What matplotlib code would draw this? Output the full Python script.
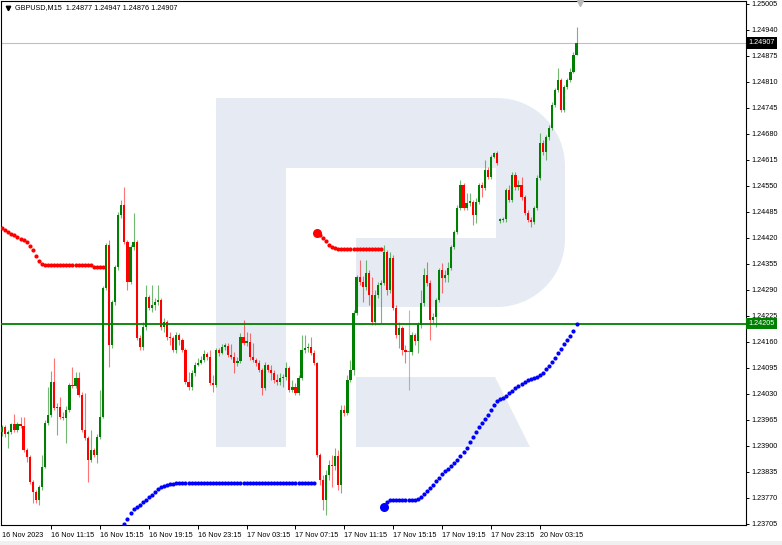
import numpy as np
import matplotlib.pyplot as plt
import matplotlib.transforms as mtransforms
from matplotlib.patches import Polygon, Rectangle

plt.rcParams['font.family'] = ['Liberation Sans', 'DejaVu Sans']

SYMBOL = "GBPUSD,M15"

# M15 bars, 16 Nov 2023 07:15 .. 20 Nov 2023 06:15 (open = previous close)
FIRST_OPEN = 1.23935
WEEKEND_BAR = 163
WEEKEND_OPEN = 1.24463

CLOSE = [
    1.23948, 1.23930, 1.23935, 1.23955, 1.23940, 1.23955, 1.23950, 1.23890, 1.23873, 1.23810,
    1.23785, 1.23765, 1.23798, 1.23848, 1.23958, 1.23978, 1.24060, 1.23995, 1.23998, 1.23973,
    1.23970, 1.23990, 1.24053, 1.24050, 1.24070, 1.24028, 1.23940, 1.23920, 1.23865, 1.23890,
    1.23878, 1.23923, 1.23973, 1.24295, 1.24403, 1.24153, 1.24260, 1.24348, 1.24478, 1.24503,
    1.24410, 1.24310, 1.24398, 1.24410, 1.24170, 1.24148, 1.24198, 1.24273, 1.24245, 1.24253,
    1.24260, 1.24265, 1.24198, 1.24210, 1.24173, 1.24170, 1.24140, 1.24178, 1.24165, 1.24140,
    1.24060, 1.24048, 1.24083, 1.24103, 1.24108, 1.24115, 1.24130, 1.24123, 1.24058, 1.24053,
    1.24140, 1.24133, 1.24148, 1.24150, 1.24128, 1.24123, 1.24108, 1.24113, 1.24173, 1.24158,
    1.24160, 1.24123, 1.24115, 1.24108, 1.24090, 1.24045, 1.24103, 1.24090, 1.24083, 1.24065,
    1.24060, 1.24070, 1.24073, 1.24095, 1.24040, 1.24048, 1.24033, 1.24070, 1.24140, 1.24145,
    1.24148, 1.24133, 1.24108, 1.23878, 1.23815, 1.23765, 1.23828, 1.23853, 1.23850, 1.23875,
    1.23803, 1.23990, 1.23983, 1.24065, 1.24090, 1.24233, 1.24323, 1.24310, 1.24298, 1.24333,
    1.24278, 1.24210, 1.24278, 1.24303, 1.24308, 1.24385, 1.24290, 1.24370, 1.24245, 1.24178,
    1.24195, 1.24140, 1.24135, 1.24135, 1.24178, 1.24163, 1.24203, 1.24258, 1.24328, 1.24308,
    1.24215, 1.24223, 1.24265, 1.24340, 1.24320, 1.24328, 1.24345, 1.24398, 1.24435, 1.24495,
    1.24553, 1.24495, 1.24508, 1.24510, 1.24478, 1.24510, 1.24553, 1.24545, 1.24590, 1.24573,
    1.24623, 1.24633, 1.24608, 1.24465, 1.24468, 1.24540, 1.24515, 1.24578, 1.24548, 1.24553,
    1.24523, 1.24483, 1.24465, 1.24460, 1.24495, 1.24570, 1.24658, 1.24635, 1.24673, 1.24695,
    1.24753, 1.24790, 1.24815, 1.24740, 1.24798, 1.24815, 1.24835, 1.24877, 1.24907,
]

HIGH = [
    1.23953, 1.23953, 1.23940, 1.23958, 1.23980, 1.23960, 1.23973, 1.23973, 1.23895, 1.23878,
    1.23815, 1.23790, 1.23803, 1.23878, 1.23965, 1.24048, 1.24088, 1.24120, 1.24008, 1.24023,
    1.23985, 1.24000, 1.24058, 1.24098, 1.24085, 1.24085, 1.24035, 1.24033, 1.23925, 1.23940,
    1.23895, 1.23930, 1.24040, 1.24300, 1.24408, 1.24415, 1.24265, 1.24353, 1.24485, 1.24515,
    1.24548, 1.24415, 1.24403, 1.24483, 1.24415, 1.24178, 1.24210, 1.24303, 1.24278, 1.24303,
    1.24270, 1.24303, 1.24270, 1.24220, 1.24215, 1.24185, 1.24175, 1.24185, 1.24183, 1.24170,
    1.24145, 1.24085, 1.24090, 1.24110, 1.24120, 1.24125, 1.24140, 1.24135, 1.24140, 1.24078,
    1.24145, 1.24145, 1.24155, 1.24158, 1.24158, 1.24155, 1.24135, 1.24123, 1.24183, 1.24215,
    1.24185, 1.24183, 1.24158, 1.24120, 1.24115, 1.24095, 1.24110, 1.24105, 1.24103, 1.24090,
    1.24080, 1.24083, 1.24080, 1.24110, 1.24100, 1.24065, 1.24058, 1.24078, 1.24178, 1.24178,
    1.24158, 1.24173, 1.24140, 1.24110, 1.23883, 1.23828, 1.23840, 1.23865, 1.23878, 1.23895,
    1.23890, 1.24003, 1.24003, 1.24078, 1.24115, 1.24240, 1.24328, 1.24365, 1.24325, 1.24365,
    1.24340, 1.24323, 1.24290, 1.24310, 1.24315, 1.24403, 1.24390, 1.24385, 1.24378, 1.24253,
    1.24210, 1.24200, 1.24153, 1.24240, 1.24185, 1.24183, 1.24210, 1.24290, 1.24345, 1.24360,
    1.24315, 1.24233, 1.24270, 1.24345, 1.24358, 1.24340, 1.24360, 1.24403, 1.24440, 1.24503,
    1.24565, 1.24558, 1.24533, 1.24533, 1.24515, 1.24520, 1.24558, 1.24560, 1.24615, 1.24598,
    1.24628, 1.24635, 1.24638, 1.24470, 1.24473, 1.24545, 1.24553, 1.24585, 1.24585, 1.24565,
    1.24573, 1.24528, 1.24490, 1.24473, 1.24500, 1.24578, 1.24683, 1.24665, 1.24678, 1.24703,
    1.24760, 1.24795, 1.24845, 1.24820, 1.24803, 1.24820, 1.24845, 1.24885, 1.24947,
]

LOW = [
    1.23925, 1.23923, 1.23895, 1.23930, 1.23935, 1.23935, 1.23945, 1.23885, 1.23860, 1.23805,
    1.23758, 1.23758, 1.23753, 1.23790, 1.23845, 1.23953, 1.23973, 1.23990, 1.23928, 1.23968,
    1.23965, 1.23908, 1.23985, 1.24045, 1.24045, 1.24023, 1.23935, 1.23915, 1.23810, 1.23860,
    1.23873, 1.23858, 1.23918, 1.23970, 1.24290, 1.24098, 1.24145, 1.24253, 1.24340, 1.24470,
    1.24405, 1.24290, 1.24305, 1.24390, 1.24165, 1.24140, 1.24140, 1.24190, 1.24240, 1.24235,
    1.24240, 1.24253, 1.24190, 1.24185, 1.24165, 1.24153, 1.24135, 1.24133, 1.24153, 1.24135,
    1.24055, 1.24040, 1.24040, 1.24075, 1.24100, 1.24105, 1.24110, 1.24115, 1.24053, 1.24035,
    1.24048, 1.24125, 1.24130, 1.24140, 1.24123, 1.24118, 1.24083, 1.24100, 1.24108, 1.24153,
    1.24150, 1.24115, 1.24110, 1.24100, 1.24085, 1.24028, 1.24040, 1.24085, 1.24065, 1.24058,
    1.24053, 1.24053, 1.24048, 1.24065, 1.24035, 1.24035, 1.24028, 1.24028, 1.24065, 1.24133,
    1.24135, 1.24128, 1.24103, 1.23873, 1.23803, 1.23740, 1.23728, 1.23815, 1.23798, 1.23840,
    1.23790, 1.23783, 1.23975, 1.23978, 1.24060, 1.24078, 1.24228, 1.24303, 1.24260, 1.24290,
    1.24253, 1.24203, 1.24203, 1.24270, 1.24208, 1.24303, 1.24278, 1.24283, 1.24240, 1.24170,
    1.24145, 1.24128, 1.24108, 1.24040, 1.24128, 1.24153, 1.24133, 1.24195, 1.24250, 1.24300,
    1.24165, 1.24208, 1.24198, 1.24260, 1.24283, 1.24310, 1.24310, 1.24340, 1.24393, 1.24430,
    1.24490, 1.24490, 1.24490, 1.24500, 1.24453, 1.24458, 1.24505, 1.24523, 1.24540, 1.24568,
    1.24568, 1.24620, 1.24603, 1.24458, 1.24460, 1.24460, 1.24510, 1.24510, 1.24540, 1.24540,
    1.24515, 1.24478, 1.24460, 1.24448, 1.24455, 1.24490, 1.24565, 1.24628, 1.24615, 1.24665,
    1.24690, 1.24748, 1.24785, 1.24735, 1.24735, 1.24793, 1.24810, 1.24833, 1.24876,
]

# trailing band dots: (first bar index, values)
UPPER_A_START = 0
UPPER_A = [
    1.24445, 1.24440, 1.24435, 1.24430, 1.24428, 1.24423, 1.24418, 1.24415, 1.24410, 1.24400,
    1.24390, 1.24375, 1.24363, 1.24355, 1.24353, 1.24353, 1.24353, 1.24353, 1.24353, 1.24353,
    1.24353, 1.24353, 1.24353, 1.24353, 1.24353, 1.24353, 1.24353, 1.24353, 1.24353, 1.24353,
    1.24348, 1.24348, 1.24348, 1.24348,
]
UPPER_B_START = 103
UPPER_B = [
    1.24433, 1.24428, 1.24420, 1.24413, 1.24403, 1.24398, 1.24395, 1.24393, 1.24393, 1.24393,
    1.24393, 1.24393, 1.24393, 1.24393, 1.24393, 1.24393, 1.24393, 1.24393, 1.24393, 1.24393,
    1.24393, 1.24393,
]
LOWER_A_START = 40
LOWER_A = [
    1.23705, 1.23718, 1.23733, 1.23743, 1.23748, 1.23753, 1.23760, 1.23765, 1.23773, 1.23778,
    1.23785, 1.23793, 1.23798, 1.23800, 1.23803, 1.23805, 1.23805, 1.23808, 1.23808, 1.23808,
    1.23808, 1.23808, 1.23808, 1.23808, 1.23808, 1.23808, 1.23808, 1.23808, 1.23808, 1.23808,
    1.23808, 1.23808, 1.23808, 1.23808, 1.23808, 1.23808, 1.23808, 1.23808, 1.23808, 1.23808,
    1.23808, 1.23808, 1.23808, 1.23808, 1.23808, 1.23808, 1.23808, 1.23808, 1.23808, 1.23808,
    1.23808, 1.23808, 1.23808, 1.23808, 1.23808, 1.23808, 1.23808, 1.23808, 1.23808, 1.23808,
    1.23808, 1.23808, 1.23808,
]
LOWER_B_START = 125
LOWER_B = [
    1.23748, 1.23760, 1.23765, 1.23765, 1.23765, 1.23765, 1.23765, 1.23765, 1.23765, 1.23765,
    1.23765, 1.23768, 1.23773, 1.23780, 1.23788, 1.23795, 1.23803, 1.23813, 1.23820, 1.23830,
    1.23838, 1.23843, 1.23850, 1.23858, 1.23865, 1.23875, 1.23885, 1.23895, 1.23910, 1.23923,
    1.23935, 1.23948, 1.23958, 1.23968, 1.23978, 1.23990, 1.24003, 1.24013, 1.24018, 1.24020,
    1.24025, 1.24033, 1.24038, 1.24045, 1.24050, 1.24055, 1.24060, 1.24065, 1.24068, 1.24070,
    1.24073, 1.24078, 1.24083, 1.24093, 1.24100, 1.24110, 1.24120, 1.24133, 1.24143, 1.24155,
    1.24165, 1.24175, 1.24188, 1.24205,
]

LEVEL_LINE = 1.24205
BID_LINE = 1.24907

Y_TICKS = [1.23705, 1.23770, 1.23835, 1.23900, 1.23965, 1.24030, 1.24095, 1.24160,
           1.24225, 1.24290, 1.24355, 1.24420, 1.24485, 1.24550, 1.24615, 1.24680,
           1.24745, 1.24810, 1.24875, 1.24940, 1.25005]
X_TICK_BARS = [0, 16, 32, 48, 64, 80, 96, 112, 128, 144, 160, 176]
X_TICK_LABELS = ["16 Nov 2023", "16 Nov 11:15", "16 Nov 15:15", "16 Nov 19:15",
                 "16 Nov 23:15", "17 Nov 03:15", "17 Nov 07:15", "17 Nov 11:15",
                 "17 Nov 15:15", "17 Nov 19:15", "17 Nov 23:15", "20 Nov 03:15"]

W, H = 782, 545
FS = 5.2
WATERMARK = '#E6EBF3'

fig = plt.figure(figsize=(W / 100, H / 100), dpi=100)
fig.patch.set_facecolor('white')
fig.patches.append(Rectangle((0, 0), 1, 4 / H, transform=fig.transFigure,
                             facecolor='#F0F0F0', edgecolor='none'))
ax = fig.add_axes([1 / W, 20 / H, 745 / W, 524 / H])
ax.set_xlim(-0.39, 243.47)
ax.set_ylim(1.23702, 1.25012)


def px(x, y):
    # screen pixel -> axes fraction
    return ((x - 1) / 745, (525 - y) / 524)


# watermark "R"
r = 68
t = np.linspace(0, np.pi / 2, 20)
bowl = [px(216, 98)]
bowl += [px(497 + r * np.sin(a), 166 - r * np.cos(a)) for a in t]
bowl += [px(497 + r * np.cos(a), 239 + r * np.sin(a)) for a in t]
bowl += [px(216, 307)]
for shape in (bowl,
              [px(216, 98), px(286, 98), px(286, 447), px(216, 447)],
              [px(356, 377), px(495, 377), px(530, 447), px(356, 447)]):
    ax.add_patch(Polygon(shape, closed=True, transform=ax.transAxes,
                         facecolor=WATERMARK, edgecolor='none', zorder=0.2))
for shape in ([px(286, 168), px(496, 168), px(496, 238), px(286, 238)],
              [px(286, 237), px(356, 237), px(356, 308), px(286, 308)]):
    ax.add_patch(Polygon(shape, closed=True, transform=ax.transAxes,
                         facecolor='white', edgecolor='none', zorder=0.3))

# candles
close = np.array(CLOSE)
idx = np.arange(len(close))
opens = np.concatenate([[FIRST_OPEN], close[:-1]])
opens[WEEKEND_BAR] = WEEKEND_OPEN
high = np.maximum.reduce([np.array(HIGH), opens, close])
low = np.minimum.reduce([np.array(LOW), opens, close])
colors = np.where(close > opens, '#008000', np.where(close < opens, '#FF0000', '#808080'))

ax.vlines(idx, low, high, colors=colors, linewidth=0.8, alpha=0.55, zorder=2)
body = np.maximum(np.abs(close - opens), 0.00003)
ax.bar(idx, body, bottom=np.minimum(opens, close), width=0.72, color=colors,
       linewidth=0, zorder=3)

# horizontal lines
ax.axhline(BID_LINE, color='#C0C0C0', linewidth=0.8, zorder=1)
ax.axhline(LEVEL_LINE, color='#008000', linewidth=1.3, zorder=4)

# band dots
for start, vals, col in ((UPPER_A_START, UPPER_A, '#FF0000'),
                         (UPPER_B_START, UPPER_B, '#FF0000'),
                         (LOWER_A_START, LOWER_A, '#0000FF'),
                         (LOWER_B_START, LOWER_B, '#0000FF')):
    xs = np.arange(start, start + len(vals))
    ax.plot(xs, vals, 'o', ms=3.0, color=col, mec='none', zorder=5)
for start, vals, col in ((UPPER_B_START, UPPER_B, '#FF0000'),
                         (LOWER_B_START, LOWER_B, '#0000FF')):
    ax.plot([start], [vals[0]], 'o', ms=6.5, color=col, mec='none', zorder=5)

# axes styling
for s in ax.spines.values():
    s.set_color('black')
    s.set_linewidth(0.8)
ax.yaxis.tick_right()
ax.set_yticks(Y_TICKS)
ax.set_yticklabels([f"{v:.5f}" for v in Y_TICKS])
ax.tick_params(axis='y', direction='out', length=2.5, width=0.7, pad=1.5,
               labelsize=FS, colors='black')
ax.set_xticks(X_TICK_BARS)
ax.set_xticklabels(X_TICK_LABELS)
ax.tick_params(axis='x', direction='out', length=3, width=0.7, pad=2.2,
               labelsize=FS, colors='black')
for lab in ax.get_xticklabels():
    lab.set_horizontalalignment('left')
ax.xaxis.get_major_ticks()[0].tick1line.set_visible(False)

# price tags on the scale
tr = mtransforms.blended_transform_factory(ax.transAxes, ax.transData)
ax.text(1.003, BID_LINE, f"{BID_LINE:.5f}", transform=tr, ha='left', va='center',
        fontsize=FS, color='white', zorder=10, clip_on=False,
        bbox=dict(boxstyle='square,pad=0.3', facecolor='black', edgecolor='none'))
ax.text(1.003, LEVEL_LINE, f"{LEVEL_LINE:.5f}", transform=tr, ha='left', va='center',
        fontsize=FS, color='white', zorder=10, clip_on=False,
        bbox=dict(boxstyle='square,pad=0.3', facecolor='#008000', edgecolor='none'))

# header
hx, hy = px(8, 8)
ax.plot([hx], [hy], marker='v', ms=3.2, color='black', transform=ax.transAxes,
        clip_on=False, zorder=10)
tx, ty = px(15, 8)
ax.text(tx, ty, f"{SYMBOL}  {opens[-1]:.5f} {high[-1]:.5f} {low[-1]:.5f} {close[-1]:.5f}",
        transform=ax.transAxes, ha='left', va='center', fontsize=FS, color='black')
sx, sy = px(580, 3)
ax.plot([sx], [sy], marker='v', ms=4, color='#B8B8B8', transform=ax.transAxes,
        clip_on=False, zorder=10)

fig.savefig('out.png', dpi=100)
